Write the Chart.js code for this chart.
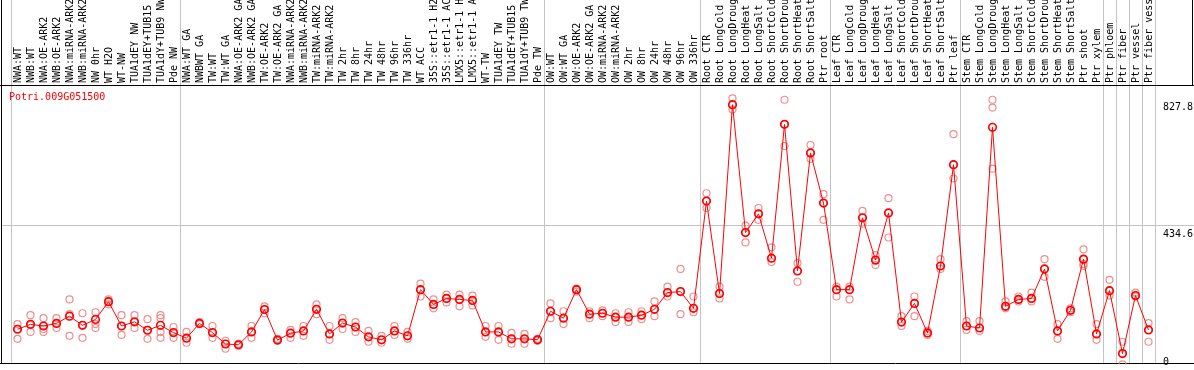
<!DOCTYPE html>
<html>
<head>
<meta charset="utf-8">
<script src="https://cdn.jsdelivr.net/npm/chart.js@4.4.1/dist/chart.umd.min.js"></script>
<style>
  html, body { margin: 0; padding: 0; background: #ffffff; }
  #wrap { width: 1194px; height: 370px; position: relative; }
</style>
</head>
<body>
<div id="wrap"><canvas id="c" width="1194" height="370"></canvas></div>
<script>
const geneId = "Potri.009G051500";

const categories = [
  "NWA:WT","NWB:WT","NWA:OE-ARK2","NWB:OE-ARK2","NWA:miRNA-ARK2","NWB:miRNA-ARK2","NW 0hr","WT H2O","WT-NW",
  "TUA1dEY NW","TUA1dEY+TUB15 NW","TUA1dY+TUB9 NW","Pde NW",
  "NWA:WT GA","NWBWT GA","TW:WT","TW:WT GA","NWA:OE-ARK2 GA","NWB:OE-ARK2 GA","TW:OE-ARK2","TW:OE-ARK2 GA",
  "NWA:miRNA-ARK2 GA","NWB:miRNA-ARK2 GA","TW:miRNA-ARK2","TW:miRNA-ARK2 GA","TW 2hr","TW 8hr","TW 24hr","TW 48hr",
  "TW 96hr","TW 336hr","WT ACC","35S::etr1-1 H2O","35S::etr1-1 ACC","LMX5::etr1-1 H2O","LMX5::etr1-1 ACC","WT-TW",
  "TUA1dEY TW","TUA1dEY+TUB15 TW","TUA1dY+TUB9 TW","Pde TW",
  "OW:WT","OW:WT GA","OW:OE-ARK2","OW:OE-ARK2 GA","OW:miRNA-ARK2","OW:miRNA-ARK2 GA","OW 2hr","OW 8hr","OW 24hr",
  "OW 48hr","OW 96hr","OW 336hr",
  "Root CTR","Root LongCold","Root LongDrought","Root LongHeat","Root LongSalt","Root ShortCold","Root ShortDrought",
  "Root ShortHeat","Root ShortSalt","Ptr root",
  "Leaf CTR","Leaf LongCold","Leaf LongDrought","Leaf LongHeat","Leaf LongSalt","Leaf ShortCold","Leaf ShortDrought",
  "Leaf ShortHeat","Leaf ShortSalt","Ptr leaf",
  "Stem CTR","Stem LongCold","Stem LongDrought","Stem LongHeat","Stem LongSalt","Stem ShortCold","Stem ShortDrought",
  "Stem ShortHeat","Stem ShortSalt","Ptr shoot","Ptr xylem",
  "Ptr phloem","Ptr fiber","Ptr vessel","Ptr fiber vessel"
];

const meanValues = [
  109.3,124.6,119.4,127.6,150.0,121.5,139.9,195.0,119.4,132.5,106.2,121.5,98.9,
  81.7,127.6,98.9,63.4,61.2,101.0,170.5,75.6,97.0,104.1,171.4,94.9,128.5,116.3,85.7,76.5,104.1,88.8,
  232.6,186.7,205.1,202.0,198.9,101.0,101.0,79.6,79.6,76.5,
  165.3,143.8,232.6,156.1,159.1,146.9,146.9,153.0,171.4,223.4,226.5,174.4,
  508.0,220.4,808.0,410.1,468.3,330.5,746.8,290.7,658.0,501.9,
  232.6,232.6,456.0,324.4,471.3,131.6,189.8,97.9,306.1,621.3,
  119.4,113.2,737.6,180.6,202.0,205.1,296.9,104.1,168.3,327.5,94.9,
  229.5,33.7,214.2,107.1
];

const rep1 = [
  125.5,153.0,143.8,143.8,202.0,159.1,162.2,202.0,153.0,153.0,140.8,153.0,116.3,
  101.0,131.6,119.4,73.5,64.3,119.4,180.6,79.6,107.1,119.4,186.7,119.4,143.8,131.6,104.1,88.8,119.4,101.0,
  251.0,202.0,217.3,217.3,214.2,119.4,119.4,97.9,94.9,79.6,
  189.8,165.3,235.7,165.3,168.3,159.1,162.2,165.3,195.9,241.8,296.9,211.2,
  532.5,241.8,827.8,431.5,486.6,364.2,823.3,315.2,682.5,529.5,
  241.8,241.8,477.4,339.7,517.2,150.0,211.2,104.1,327.5,716.2,
  134.7,134.7,823.3,195.9,211.2,223.4,327.5,125.5,174.4,358.1,125.5,
  263.2,70.4,223.4,128.5
];
const rep2 = [
  110.2,122.4,110.2,128.5,156.1,122.4,125.5,195.9,119.4,131.6,107.1,143.8,97.9,
  82.6,128.5,97.9,64.3,61.2,101.0,171.4,76.5,97.9,104.1,171.4,94.9,128.5,116.3,85.7,76.5,104.1,88.8,
  232.6,186.7,205.1,202.0,198.9,101.0,101.0,79.6,79.6,76.5,
  165.3,143.8,232.6,156.1,159.1,146.9,146.9,153.0,171.4,223.4,226.5,174.4,
  508.0,220.4,808.0,410.1,468.3,330.5,746.8,290.7,658.0,501.9,
  232.6,232.6,456.0,324.4,471.3,131.6,189.8,97.9,306.1,621.3,
  119.4,113.2,799.0,180.6,202.0,205.1,296.9,104.1,168.3,327.5,94.9,
  229.5,33.7,214.2,107.1
];
const rep3 = [
  79.6,101.0,101.0,113.2,88.8,82.6,113.2,186.7,91.8,113.2,79.6,101.0,82.6,
  67.3,125.5,82.6,49.0,58.1,82.6,159.1,73.5,82.6,88.8,156.1,76.5,110.2,101.0,70.4,67.3,91.8,79.6,
  211.2,174.4,192.8,180.6,183.6,85.7,76.5,64.3,64.3,73.5,
  143.8,125.5,226.5,143.8,150.0,131.6,131.6,140.8,150.0,211.2,156.1,162.2,
  486.6,205.1,792.7,379.5,449.9,318.3,679.4,257.1,639.6,449.9,
  211.2,202.0,437.7,309.1,394.8,119.4,150.0,91.8,296.9,578.4,
  107.1,104.1,609.0,174.4,195.9,195.9,272.4,79.6,162.2,312.2,76.5,
  214.2,0,211.2,70.4
];
const rep4 = categories.map(() => null);
rep4[11] = 82.6;
rep4[82] = 306.1;

const groupBoundaries = [0, 13, 41, 53, 63, 73, 84, 85, 86, 87, 88];
const yMax = 869.2;
const yTickValues = [827.8, 434.6, 0];
const yGridValues = [434.6];

const RED = "#ff0000";
const PINK = "rgba(238,130,130,0.9)";
const FONT = "DejaVu Sans Mono";

const decorPlugin = {
  id: "decor",
  beforeDatasetsDraw(chart) {
    const ctx = chart.ctx;
    const xs = chart.scales.x;
    const ys = chart.scales.y;
    const W = chart.width;
    const area = chart.chartArea;
    const step = xs.getPixelForTick(1) - xs.getPixelForTick(0);
    ctx.save();
    ctx.strokeStyle = "#c4c4c4";
    ctx.lineWidth = 1;
    groupBoundaries.forEach(b => {
      let px;
      if (b === 0) px = xs.getPixelForTick(0) - step / 2;
      else px = xs.getPixelForTick(b - 1) + step / 2;
      px = Math.round(px) + 0.5;
      ctx.beginPath();
      ctx.moveTo(px, 0);
      ctx.lineTo(px, area.bottom);
      ctx.stroke();
    });
    yGridValues.forEach(v => {
      const py = Math.round(ys.getPixelForValue(v)) + 0.5;
      ctx.beginPath();
      ctx.moveTo(2, py);
      ctx.lineTo(W, py);
      ctx.stroke();
    });
    ctx.strokeStyle = "#000000";
    const top = Math.round(area.top) + 0.5;
    ctx.beginPath(); ctx.moveTo(0, top); ctx.lineTo(W, top); ctx.stroke();
    const bot = Math.round(area.bottom) - 0.5;
    ctx.beginPath(); ctx.moveTo(0, bot); ctx.lineTo(W, bot); ctx.stroke();
    ctx.beginPath(); ctx.moveTo(1.5, 0); ctx.lineTo(1.5, bot); ctx.stroke();
    ctx.beginPath(); ctx.moveTo(W - 1.5, 0); ctx.lineTo(W - 1.5, top); ctx.stroke();
    ctx.restore();
  },
  afterDraw(chart) {
    const ctx = chart.ctx;
    const ys = chart.scales.y;
    const area = chart.chartArea;
    ctx.save();
    ctx.font = "10px '" + FONT + "'";
    ctx.fillStyle = RED;
    ctx.textBaseline = "middle";
    ctx.textAlign = "left";
    ctx.fillText(geneId, 9, area.top + 12);
    ctx.fillStyle = "#000000";
    yTickValues.forEach(v => {
      const py = ys.getPixelForValue(v);
      const y = v === 0 ? py - 1.5 : py + 9.5;
      ctx.fillText(String(v), area.right + 8, y);
    });
    ctx.restore();
  }
};

const repStyle = {
  showLine: false,
  pointStyle: "circle",
  pointRadius: 3.5,
  pointBorderWidth: 1.2,
  pointBorderColor: PINK,
  pointBackgroundColor: "rgba(0,0,0,0)",
  borderColor: PINK,
  pointHoverRadius: 3.5
};

new Chart(document.getElementById("c"), {
  type: "line",
  data: {
    labels: categories,
    datasets: [
      {
        label: "mean",
        data: meanValues,
        borderColor: RED,
        borderWidth: 1,
        tension: 0,
        pointStyle: "circle",
        pointRadius: 3.8,
        pointBorderWidth: 1.6,
        pointBorderColor: RED,
        pointBackgroundColor: "rgba(0,0,0,0)",
        fill: false
      },
      Object.assign({ label: "rep1", data: rep1 }, repStyle),
      Object.assign({ label: "rep2", data: rep2 }, repStyle),
      Object.assign({ label: "rep3", data: rep3 }, repStyle),
      Object.assign({ label: "rep4", data: rep4 }, repStyle)
    ]
  },
  options: {
    responsive: false,
    animation: false,
    devicePixelRatio: 1,
    layout: { padding: { left: 11, right: 0, top: 0, bottom: 1 } },
    plugins: { legend: { display: false }, tooltip: { enabled: false }, title: { display: false } },
    scales: {
      x: {
        type: "category",
        position: "top",
        offset: true,
        grid: { display: false, drawTicks: false },
        border: { display: false },
        ticks: {
          autoSkip: false,
          minRotation: 90,
          maxRotation: 90,
          padding: 2,
          labelOffset: 12.5,
          color: "#000000",
          font: { family: FONT, size: 10 }
        },
        afterFit(scale) { scale.height = 85; }
      },
      y: {
        position: "right",
        min: 0,
        max: yMax,
        grid: { display: false, drawTicks: false },
        border: { display: false },
        ticks: { display: false },
        afterFit(scale) { scale.width = 39; }
      }
    }
  },
  plugins: [decorPlugin]
});
</script>
</body>
</html>
